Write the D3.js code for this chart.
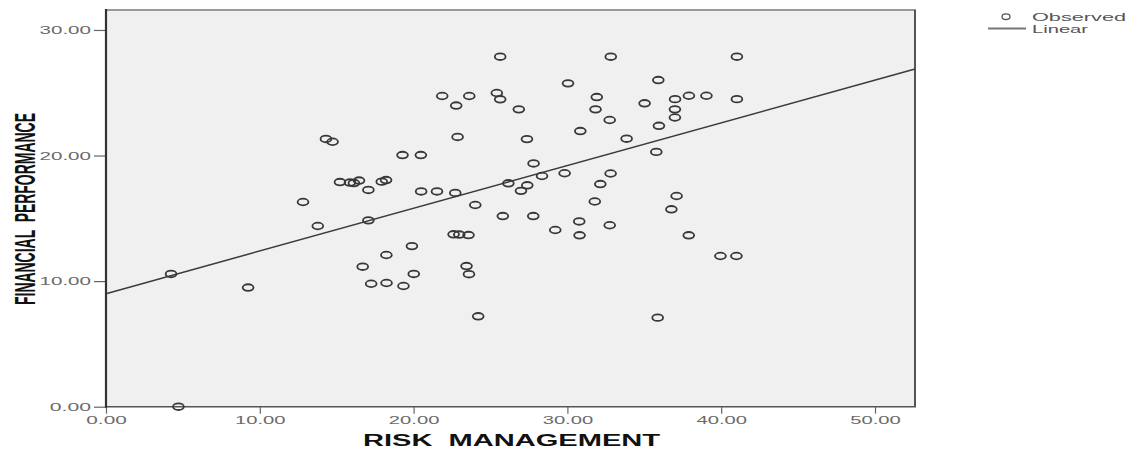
<!DOCTYPE html>
<html>
<head>
<meta charset="utf-8">
<script src="https://cdn.jsdelivr.net/npm/d3@7"></script>
<style>
  html, body { margin: 0; padding: 0; background: #ffffff; }
  svg { display: block; }
</style>
</head>
<body>
<svg id="chart" width="1137" height="451"></svg>
<script>
// ---- data ----
const riskManagement = [
  4.23, 4.71, 9.24, 12.81, 13.77, 14.30, 14.73, 15.21, 15.86, 16.12,
  16.45, 17.06, 17.93, 18.21, 17.06, 19.28, 20.47, 20.49, 21.52, 22.71,
  21.86, 23.62, 22.77, 25.41, 25.63, 26.84, 25.63, 22.86, 27.37, 27.80,
  28.35, 29.82, 32.81, 32.14, 31.78, 26.16, 27.39, 26.98, 24.01, 25.80,
  27.78, 30.77, 32.75, 29.21, 30.79, 22.60, 22.97, 23.57, 19.89, 18.23,
  16.69, 20.01, 17.24, 18.24, 19.34, 23.44, 23.60, 24.20, 30.04, 31.91,
  31.83, 32.75, 30.84, 32.82, 41.02, 35.91, 35.02, 37.00, 37.90, 39.04,
  41.02, 36.99, 36.99, 35.95, 33.85, 35.78, 37.10, 36.76, 37.89, 39.95,
  40.99, 35.87
];
const financialPerformance = [
  10.57, 0.00, 9.49, 16.30, 14.39, 21.32, 21.10, 17.89, 17.85, 17.81,
  18.01, 17.26, 17.92, 18.05, 14.84, 20.04, 20.04, 17.14, 17.14, 17.02,
  24.74, 24.74, 23.98, 24.98, 24.48, 23.68, 27.87, 21.48, 21.31, 19.37,
  18.37, 18.59, 18.57, 17.73, 16.34, 17.79, 17.63, 17.19, 16.06, 15.18,
  15.18, 14.75, 14.45, 14.07, 13.65, 13.73, 13.71, 13.67, 12.79, 12.08,
  11.15, 10.57, 9.79, 9.85, 9.61, 11.20, 10.55, 7.20, 25.75, 24.66,
  23.68, 22.83, 21.95, 27.87, 27.87, 26.01, 24.16, 24.49, 24.76, 24.76,
  24.49, 23.68, 23.03, 22.37, 21.34, 20.29, 16.78, 15.72, 13.65, 12.00,
  12.00, 7.09
];
const linearFit = { intercept: 9.0, slope: 0.34 };
const xTicks = [0, 10, 20, 30, 40, 50];
const yTicks = [0, 10, 20, 30];
const xDomain = [0, 52.6];
const yDomain = [0, 31.59];
const legendLabels = ["Observed", "Linear"];
const xTitle = "RISK  MANAGEMENT";
const yTitle = "FINANCIAL  PERFORMANCE";

// ---- layout ----
const L = 106, R = 915, T = 10, B = 406.7;
const svg = d3.select("#chart");
const x = d3.scaleLinear().domain(xDomain).range([L, R]);
const y = d3.scaleLinear().domain(yDomain).range([B, T]);
const fmt = d3.format(".2f");
const labelFont = "'Liberation Sans', Arial, sans-serif";

// plot background
svg.append("rect")
  .attr("x", L).attr("y", T).attr("width", R - L).attr("height", B - T)
  .attr("fill", "#f0f0f0");

// frame
svg.append("line").attr("x1", L).attr("x2", R + 1).attr("y1", T).attr("y2", T)
  .attr("stroke", "#9a9a9a").attr("stroke-width", 2);
svg.append("line").attr("x1", R).attr("x2", R).attr("y1", T).attr("y2", B)
  .attr("stroke", "#555").attr("stroke-width", 2);

// y axis
const yAxis = svg.append("g")
  .attr("transform", `translate(${L},0)`)
  .call(d3.axisLeft(y).tickValues(yTicks).tickSize(12).tickPadding(3).tickFormat(fmt));
yAxis.select(".domain").remove();
yAxis.selectAll(".tick line").attr("stroke", "#666").attr("stroke-width", 1.2);
yAxis.selectAll(".tick text")
  .attr("fill", "#6a6a6a")
  .attr("font-family", labelFont)
  .attr("font-size", 11.5)
  .attr("textLength", d => fmt(d).length * 10.3)
  .attr("lengthAdjust", "spacingAndGlyphs");

// x axis
const xAxis = svg.append("g")
  .attr("transform", `translate(0,${B})`)
  .call(d3.axisBottom(x).tickValues(xTicks).tickSize(7).tickFormat(fmt));
xAxis.select(".domain").remove();
xAxis.selectAll(".tick line").attr("stroke", "#666").attr("stroke-width", 1.2);
xAxis.selectAll(".tick text")
  .attr("y", 13).attr("dy", "0.35em")
  .attr("fill", "#6a6a6a")
  .attr("font-family", labelFont)
  .attr("font-size", 11.5)
  .attr("textLength", d => fmt(d).length * 10.1)
  .attr("lengthAdjust", "spacingAndGlyphs");

// axis lines
svg.append("line").attr("x1", L).attr("x2", R + 1).attr("y1", B).attr("y2", B)
  .attr("stroke", "#555").attr("stroke-width", 1.6);
svg.append("line").attr("x1", L).attr("x2", L).attr("y1", T - 1).attr("y2", B + 1)
  .attr("stroke", "#333").attr("stroke-width", 2.2);

// fit line
svg.append("line")
  .attr("x1", x(xDomain[0])).attr("y1", y(linearFit.intercept + linearFit.slope * xDomain[0]))
  .attr("x2", x(xDomain[1])).attr("y2", y(linearFit.intercept + linearFit.slope * xDomain[1]))
  .attr("stroke", "#3a3a3a").attr("stroke-width", 1.5);

// points
const pts = riskManagement.map((v, i) => ({ x: v, y: financialPerformance[i] }));
svg.append("g").selectAll("ellipse").data(pts).join("ellipse")
  .attr("cx", d => x(d.x)).attr("cy", d => y(d.y))
  .attr("rx", 5.4).attr("ry", 3.3)
  .attr("fill", "none").attr("stroke", "#383838").attr("stroke-width", 1.8);

// axis titles
svg.append("text")
  .attr("x", 363).attr("y", 446)
  .attr("font-family", labelFont).attr("font-weight", "bold")
  .attr("font-size", 16).attr("fill", "#111")
  .attr("textLength", 297).attr("lengthAdjust", "spacingAndGlyphs")
  .style("white-space", "pre")
  .text(xTitle);

// y title: bold, condensed via scale so its box is its drawn size
const yt = svg.append("text")
  .attr("font-family", labelFont).attr("font-weight", "bold")
  .attr("font-size", 29).attr("fill", "#111")
  .style("white-space", "pre")
  .text(yTitle);
const natural = yt.node().getComputedTextLength();
const sx = 192 / natural;
yt.attr("transform", `translate(35,305) rotate(-90) scale(${sx},1)`);

// legend
const lg = svg.append("g");
lg.append("ellipse").attr("cx", 1006).attr("cy", 16.7).attr("rx", 4).attr("ry", 2.8)
  .attr("fill", "none").attr("stroke", "#555").attr("stroke-width", 1.3);
lg.append("line").attr("x1", 988).attr("x2", 1026).attr("y1", 28.5).attr("y2", 28.5)
  .attr("stroke", "#777").attr("stroke-width", 1.8);
lg.selectAll("text.lbl").data(legendLabels).join("text")
  .attr("class", "lbl")
  .attr("x", 1032).attr("y", (d, i) => 16.7 + i * 11.8).attr("dy", "0.35em")
  .attr("font-family", labelFont).attr("font-size", 11.5).attr("fill", "#555")
  .attr("textLength", (d, i) => i === 0 ? 94 : 56)
  .attr("lengthAdjust", "spacingAndGlyphs")
  .text(d => d);
</script>
</body>
</html>
